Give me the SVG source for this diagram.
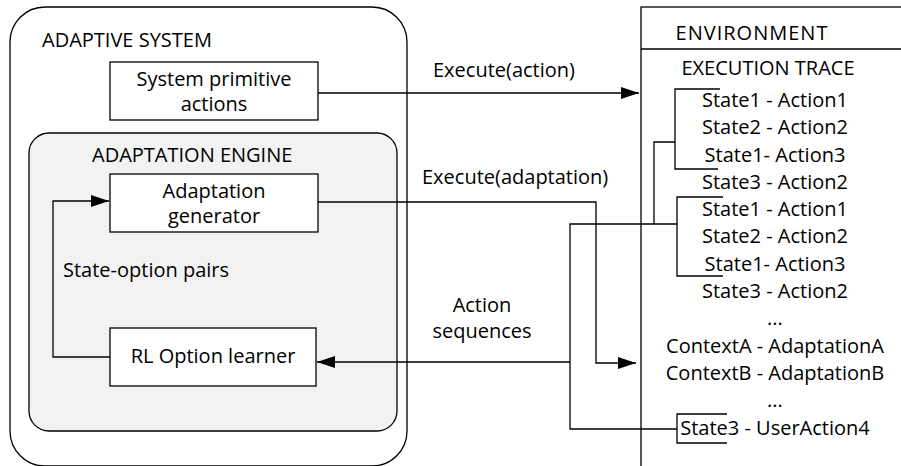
<svg xmlns="http://www.w3.org/2000/svg" width="901" height="466" viewBox="0 0 901 466">
  <style>
    text { font-family: "Open Sans", "Liberation Sans", sans-serif; font-size: 20px; fill: #000; }
    .c { text-anchor: middle; }
    .box { fill: #fff; stroke: #000; stroke-width: 1.3; }
    .frame { fill: none; stroke: #000; stroke-width: 1.3; }
    .wire { fill: none; stroke: #000; stroke-width: 1.3; }
  </style>
  <defs>
    <marker id="arrow" markerUnits="userSpaceOnUse" markerWidth="19" markerHeight="12" refX="18" refY="6" orient="auto">
      <path d="M0,0 L18,6 L0,12 z" fill="#000"/>
    </marker>
  </defs>
  <rect width="901" height="466" fill="#fff"/>

  <!-- Adaptive system container -->
  <g id="adaptive-system">
    <rect class="frame" x="10" y="7" width="397" height="459" rx="35" ry="35"/>
    <text x="42" y="47">ADAPTIVE SYSTEM</text>
  </g>

  <!-- Adaptation engine container -->
  <g id="adaptation-engine">
    <rect x="29" y="133" width="368" height="298" rx="20" ry="20" fill="#f2f2f2" stroke="#000" stroke-width="1.3"/>
    <text x="92" y="162">ADAPTATION ENGINE</text>
  </g>

  <!-- Environment -->
  <g id="environment">
    <rect class="frame" x="641" y="7" width="300" height="500"/>
    <line class="frame" x1="641" y1="49" x2="901" y2="49"/>
    <text class="c" x="752" y="40" letter-spacing="1">ENVIRONMENT</text>
    <text class="c" x="768" y="75">EXECUTION TRACE</text>
  </g>

  <g id="primitive-actions">
    <rect class="box" x="110" y="62" width="208" height="58"/>
    <text class="c" x="214" y="86">System primitive</text>
    <text class="c" x="214" y="111">actions</text>
  </g>

  <g id="adaptation-generator">
    <rect class="box" x="110" y="174" width="208" height="58"/>
    <text class="c" x="214" y="198">Adaptation</text>
    <text class="c" x="214" y="223">generator</text>
  </g>

  <g id="option-learner">
    <rect class="box" x="110" y="328" width="206" height="58"/>
    <text class="c" x="213" y="363">RL Option learner</text>
  </g>

  <!-- Execution trace entries -->
  <g id="trace">
    <text class="c" x="775" y="107">State1 - Action1</text>
    <text class="c" x="775" y="134">State2 - Action2</text>
    <text class="c" x="775" y="162">State1- Action3</text>
    <text class="c" x="775" y="189">State3 - Action2</text>
    <text class="c" x="775" y="216">State1 - Action1</text>
    <text class="c" x="775" y="243">State2 - Action2</text>
    <text class="c" x="775" y="271">State1- Action3</text>
    <text class="c" x="775" y="298">State3 - Action2</text>
    <text class="c" x="775" y="325">...</text>
    <text class="c" x="775" y="353">ContextA - AdaptationA</text>
    <text class="c" x="775" y="380">ContextB - AdaptationB</text>
    <text class="c" x="775" y="407">...</text>
    <text class="c" x="775" y="435">State3 - UserAction4</text>
  </g>

  <!-- Connectors -->
  <g id="connectors">
    <path class="wire" d="M318,93 H639" marker-end="url(#arrow)"/>
    <path class="wire" d="M318,202 H596 V363 H636" marker-end="url(#arrow)"/>
    <path class="wire" d="M110,357 H53 V201 H109" marker-end="url(#arrow)"/>
    <path class="wire" d="M570,362 H317" marker-end="url(#arrow)"/>
    <path class="wire" d="M677,224 H570 V429 H677"/>
    <!-- trace brackets -->
    <path class="wire" d="M720,89 H675 V169 H718"/>
    <path class="wire" d="M675,142 H654 V224"/>
    <path class="wire" d="M723,197 H677 V276 H723"/>
    <path class="wire" d="M727,414 H677 V443 H727"/>
    <text x="433" y="77">Execute(action)</text>
    <text x="422" y="184">Execute(adaptation)</text>
    <text x="63" y="277">State-option pairs</text>
    <text class="c" x="482" y="312">Action</text>
    <text class="c" x="482" y="338">sequences</text>
  </g>
</svg>
